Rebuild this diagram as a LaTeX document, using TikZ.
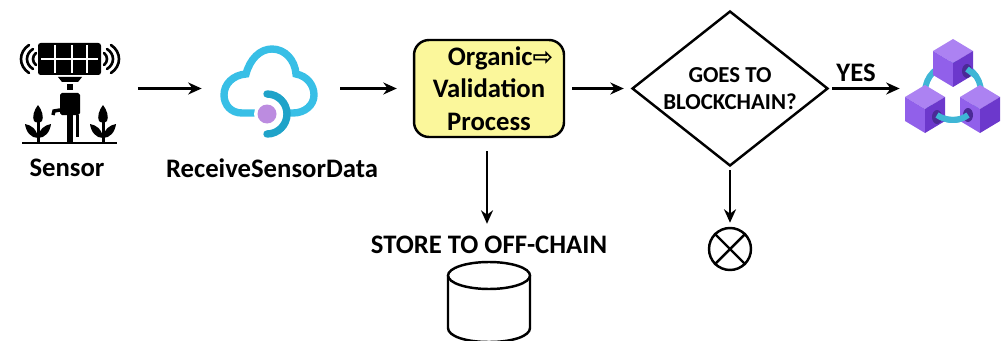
\documentclass[tikz,border=0pt]{standalone}
\usepackage{fontspec}
\setmainfont{Carlito}
\newfontfamily\symbolfont{DejaVu Sans}
\usetikzlibrary{shapes.geometric, arrows.meta}
\definecolor{boxyellow}{HTML}{FBF79B}
\definecolor{cloudblue}{HTML}{38BFE6}
\definecolor{clouddark}{HTML}{1FA3C9}
\definecolor{dotpurple}{HTML}{BC8CE0}
\definecolor{cubetop}{HTML}{AC82F2}
\definecolor{cubeleft}{HTML}{9160EA}
\definecolor{cuberight}{HTML}{6C38CC}
\definecolor{cubehole}{HTML}{4B2A96}
\definecolor{ringblue}{HTML}{3FB6D6}
\tikzset{
  flow/.style={-{Stealth[length=0.27cm,width=0.24cm]}, line width=1.4pt},
  icon/.style={inner sep=0pt, minimum height=1.8cm},
  caption/.style={font=\fontsize{15.2}{18.4}\selectfont\bfseries, inner sep=0pt, align=center},
  smallcap/.style={font=\fontsize{13}{15.4}\selectfont\bfseries, inner sep=0pt, align=center},
  plant/.pic={
    \fill (0,-18) .. controls (-4,-13) and (-6,-6) .. (-4,-2) .. controls (-3,0) and (3,0) .. (4,-2) .. controls (6,-6) and (4,-13) .. (0,-18) -- cycle;
    \fill (-1.5,-1) rectangle (1.5,20);
    \fill (0,15) .. controls (-7,15) and (-12,9) .. (-13,1) .. controls (-7,2) and (-1,6) .. (0,15) -- cycle;
    \fill (0,15) .. controls (7,15) and (12,9) .. (13,1) .. controls (7,2) and (1,6) .. (0,15) -- cycle;
  },
  cube/.pic={
    \fill[cubetop] (0,-24) -- (20,-12) -- (0,0) -- (-20,-12) -- cycle;
    \fill[cubeleft] (-20,-12) -- (0,0) -- (0,24) -- (-20,12) -- cycle;
    \fill[cuberight] (20,-12) -- (0,0) -- (0,24) -- (20,12) -- cycle;
  }
}
\begin{document}
\begin{tikzpicture}[x=0.02cm, y=-0.02cm]
\useasboundingbox (0,0) rectangle (1003,341);

% sensor
\node[icon, minimum width=2.76cm] (sensorIcon) at (68.5,88.5) {};
\fill[rounded corners=1.5pt] (38,43) rectangle (101,75);
\draw[white, line width=0.7pt] (41,59) -- (98,59) (55,45) -- (55,73) (72,45) -- (72,73) (87,45) -- (87,73);
\fill (58,77) -- (82,77) -- (78,82) -- (62,82) -- cycle;
\fill (67,84) rectangle (73,90);
\fill[rounded corners=1pt] (60,93) rectangle (80,115);
\fill (67,115) rectangle (73,143);
\fill (76,115) rectangle (79,137);
\draw[line width=2pt] (53,115) -- (54,111) -- (60,110);
\draw[line width=1.2pt] (22,143) -- (117,143);
\pic at (38,123) {plant};
\pic at (103,123) {plant};
\foreach \xa/\xb/\hh/\bb in {33/107/6/3, 27/113/10/6, 21/119/14/8} {
  \draw[line width=1.5pt, line cap=round] (\xa+\bb,59-\hh) .. controls (\xa-\bb/3,59-\hh/2) and (\xa-\bb/3,59+\hh/2) .. (\xa+\bb,59+\hh);
  \draw[line width=1.5pt, line cap=round] (\xb-\bb,59-\hh) .. controls (\xb+\bb/3,59-\hh/2) and (\xb+\bb/3,59+\hh/2) .. (\xb-\bb,59+\hh);
}
\node[caption] (sensorLabel) at (67,168) {Sensor};

% cloud
\node[icon, minimum width=2.76cm] (cloudIcon) at (271,88.5) {};
\draw[cloudblue, line width=4.2pt, line cap=round] (262,113) -- (242,113)
  .. controls (231,113) and (224,105) .. (224,95)
  .. controls (224,84) and (233,75) .. (246,74)
  .. controls (250,59) and (260,49) .. (272,49)
  .. controls (285,49) and (295,60) .. (296,74)
  .. controls (307,76) and (314,85) .. (314,95)
  .. controls (314,105) and (305,113) .. (293,113) -- (289,113);
\fill[white] (267,114) circle[radius=13];
\draw[clouddark, line width=4.2pt, line cap=round] (267,94) arc[start angle=-90, end angle=90, radius=20];
\fill[dotpurple] (267,114) circle[radius=9.5];
\node[caption] (cloudLabel) at (272,168) {ReceiveSensorData};

% validation box
\node[draw, fill=boxyellow, rounded corners=0.3cm, line width=1.4pt, minimum width=3cm, minimum height=1.94cm, inner sep=0pt,
  caption] (valBox) at (489,88.5) {\hspace*{0.46cm}Organic{\symbolfont\bfseries\fontsize{14}{14}\selectfont ⇨}\\Validation\\Process};

% decision
\node[draw, diamond, shape aspect=1.26, line width=1.4pt, minimum width=3.92cm, minimum height=3.1cm, inner sep=0pt, smallcap] (goesTo) at (730,88.5) {GOES TO\\BLOCKCHAIN?};
\node[draw, circle, line width=1.4pt, minimum size=0.84cm, inner sep=0pt] (rejectMark) at (730,249) {};
\draw[line width=1.4pt] (rejectMark.north west) -- (rejectMark.south east);
\draw[line width=1.4pt] (rejectMark.north east) -- (rejectMark.south west);

% off-chain store
\node[caption] (storeLabel) at (489,245) {STORE TO OFF-CHAIN};
\node[icon, minimum width=1.64cm, minimum height=1.62cm] (storeDb) at (489,302) {};
\draw[line width=1.4pt] (489,275.5) circle[x radius=41, y radius=13.5];
\draw[line width=1.4pt] (448,275.5) -- (448,328) .. controls (448,336) and (465,342) .. (489,342) .. controls (513,342) and (530,336) .. (530,328) -- (530,275.5);

% blockchain
\node[icon, minimum width=2.12cm] (chainIcon) at (953,88.5) {};
\draw[ringblue, line width=3.4pt] (953,92) circle[radius=28];
\pic at (953,63) {cube};
\pic at (925,109) {cube};
\pic at (980,109) {cube};
\fill[cubehole] (967,71) ellipse[x radius=5, y radius=7];
\fill[cubehole] (937,117) ellipse[x radius=5, y radius=7];
\fill[cubehole] (968,115) ellipse[x radius=5, y radius=7];
\draw[ringblue, line width=3.4pt] (967,69) -- (976,76);
\draw[ringblue, line width=3.4pt] (937,115) .. controls (946,121.5) and (960,121.5) .. (968,115);

% arrows
\draw[flow] (sensorIcon) -- (cloudIcon);
\draw[flow, shorten >=0.32cm] (cloudIcon) -- (valBox);
\draw[flow, shorten <=0.14cm, shorten >=0.14cm] (valBox) -- (goesTo);
\draw[flow, shorten <=0.06cm] (goesTo) -- node[pos=0.38, above=0.12cm, caption] (yesLabel) {YES} (chainIcon);
\draw[flow, shorten <=0.26cm, shorten >=0.24cm] ([xshift=-0.04cm]valBox.south) -- ([xshift=-0.04cm]storeLabel.north);
\draw[flow, shorten <=0.06cm, shorten >=0.08cm] (goesTo) -- (rejectMark);
\end{tikzpicture}
\end{document}
